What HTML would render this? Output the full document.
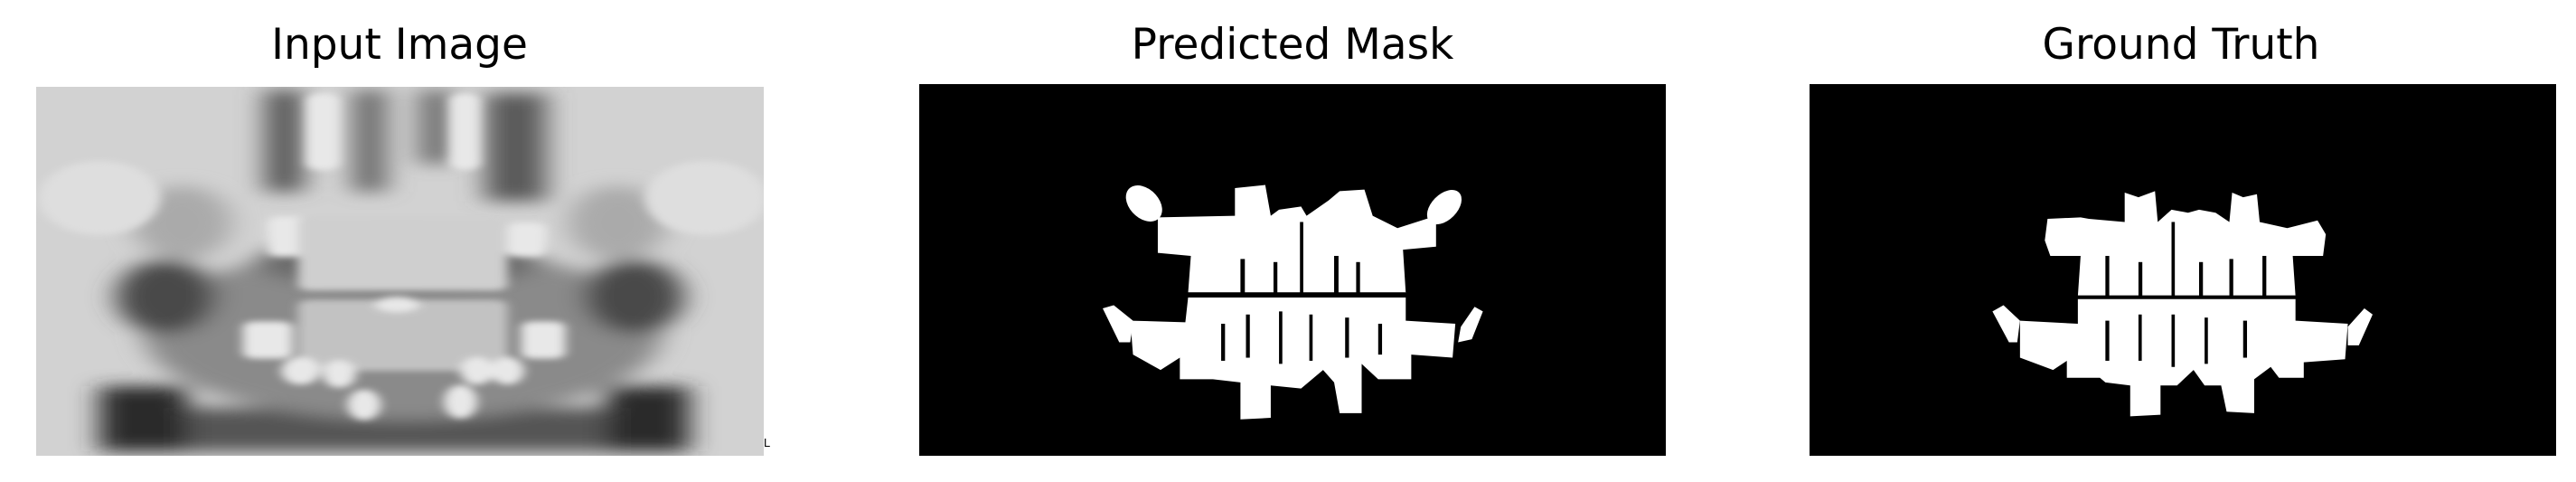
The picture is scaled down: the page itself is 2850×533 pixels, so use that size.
<!DOCTYPE html>
<html><head><meta charset="utf-8"><style>
html,body{margin:0;padding:0;background:#fff;}
body{width:2850px;height:533px;position:relative;overflow:hidden;font-family:"Liberation Sans","DejaVu Sans",sans-serif;}
.title{position:absolute;top:22px;font-size:47px;color:#000;transform:translateX(-50%);white-space:nowrap;font-family:"DejaVu Sans","Liberation Sans",sans-serif;}
svg{position:absolute;}
</style></head><body>
<div class="title" style="left:442px">Input Image</div>
<div class="title" style="left:1430px">Predicted Mask</div>
<div class="title" style="left:2413px">Ground Truth</div>

<svg style="left:40px;top:96px" width="805" height="408" viewBox="65 280 1320 1195" preserveAspectRatio="none">
<defs>
<filter id="b1" x="-50%" y="-50%" width="200%" height="200%"><feGaussianBlur stdDeviation="25"/></filter>
<filter id="b2" x="-50%" y="-50%" width="200%" height="200%"><feGaussianBlur stdDeviation="10"/></filter>
</defs>
<rect x="65" y="280" width="1320" height="1195" fill="#d2d2d2"/>
<g filter="url(#b1)">
<rect x="180" y="1250" width="160" height="210" fill="#2a2a2a"/>
<rect x="1100" y="1250" width="150" height="210" fill="#2a2a2a"/>
<rect x="340" y="1320" width="760" height="140" fill="#555"/>
<ellipse cx="730" cy="1080" rx="470" ry="280" fill="#8a8a8a"/>
<ellipse cx="300" cy="960" rx="90" ry="120" fill="#4a4a4a"/>
<ellipse cx="1150" cy="960" rx="90" ry="120" fill="#4a4a4a"/>
<ellipse cx="720" cy="850" rx="260" ry="80" fill="#6a6a6a"/>
<rect x="480" y="290" width="70" height="330" fill="#5a5a5a"/>
<rect x="640" y="290" width="60" height="330" fill="#6a6a6a"/>
<rect x="880" y="300" width="110" height="350" fill="#5a5a5a"/>
<rect x="760" y="290" width="60" height="240" fill="#707070"/>
<ellipse cx="330" cy="720" rx="90" ry="120" fill="#aaa"/>
<ellipse cx="1120" cy="720" rx="90" ry="120" fill="#aaa"/>
</g>
<g filter="url(#b2)" fill="#e8e8e8">
<rect x="555" y="300" width="60" height="250" rx="25"/>
<rect x="815" y="300" width="55" height="250" rx="25"/>
<rect x="485" y="700" width="70" height="130" rx="20"/>
<rect x="920" y="720" width="70" height="110" rx="20"/>
<rect x="540" y="700" width="380" height="240" rx="20" fill="#cfcfcf"/>
<rect x="440" y="1040" width="90" height="120" rx="20"/>
<rect x="945" y="1040" width="80" height="120" rx="20"/>
<rect x="540" y="970" width="380" height="230" rx="20" fill="#c2c2c2"/>
<ellipse cx="545" cy="1200" rx="35" ry="45"/>
<ellipse cx="615" cy="1210" rx="30" ry="45"/>
<ellipse cx="660" cy="1310" rx="30" ry="50"/>
<ellipse cx="865" cy="1200" rx="30" ry="45"/>
<ellipse cx="920" cy="1200" rx="30" ry="45"/>
<ellipse cx="835" cy="1300" rx="30" ry="55"/>
<ellipse cx="720" cy="985" rx="40" ry="25"/>
<ellipse cx="180" cy="640" rx="110" ry="120" fill="#dedede"/>
<ellipse cx="1280" cy="640" rx="110" ry="120" fill="#dedede"/>
</g>
</svg>
<div style="position:absolute;left:845px;top:482px;font-size:13px;color:#000">L</div>

<svg style="left:1017px;top:93px" width="826" height="411" viewBox="107 273 1355 1205" preserveAspectRatio="none">
<rect x="107" y="273" width="1355" height="1205" fill="#000"/>
<g fill="#fff">
<ellipse cx="515" cy="660" rx="30" ry="60" transform="rotate(-15 515 660)"/>
<ellipse cx="1060" cy="672" rx="27" ry="58" transform="rotate(18 1060 672)"/>
<polygon points="540,705 680,700 680,610 735,600 745,700 760,680 800,670 810,700 850,650 870,620 915,615 930,700 975,740 1045,700 1045,800 985,810 990,950 595,950 600,830 540,820"/>
<polygon points="440,1000 460,990 495,1040 490,1110 470,1110"/>
<polygon points="1090,1060 1115,995 1130,1010 1110,1100 1085,1110"/>
<polygon points="490,1040 590,1045 595,965 990,965 990,1040 1080,1050 1075,1160 1000,1150 1000,1230 940,1230 910,1180 910,1340 870,1340 860,1240 840,1200 800,1260 745,1250 745,1355 690,1360 690,1240 640,1230 630,1230 580,1230 580,1160 545,1200 495,1150"/>
</g>
<g fill="#000">
<rect x="590" y="948" width="400" height="10"/>
<rect x="690" y="840" width="8" height="110"/>
<rect x="750" y="850" width="7" height="100"/>
<rect x="798" y="720" width="6" height="230"/>
<rect x="860" y="830" width="8" height="120"/>
<rect x="900" y="850" width="7" height="100"/>
<rect x="655" y="1050" width="7" height="120"/>
<rect x="700" y="1020" width="7" height="140"/>
<rect x="760" y="1010" width="6" height="170"/>
<rect x="815" y="1020" width="6" height="150"/>
<rect x="880" y="1030" width="7" height="130"/>
<rect x="940" y="1050" width="7" height="100"/>
</g>
</svg>

<svg style="left:2002px;top:93px" width="826" height="411" viewBox="163 273 1355 1205" preserveAspectRatio="none">
<rect x="163" y="273" width="1355" height="1205" fill="#000"/>
<g fill="#fff">
<polygon points="595,710 655,705 670,710 735,720 735,625 760,640 790,620 795,720 820,680 850,690 870,680 900,690 925,720 930,625 950,640 975,630 980,720 1030,740 1085,715 1100,760 1095,830 1040,830 1045,960 650,960 655,830 600,830 590,780"/>
<polygon points="495,1010 515,990 545,1040 540,1110 525,1110"/>
<polygon points="1140,1060 1170,1000 1185,1020 1160,1120 1140,1120"/>
<polygon points="545,1040 650,1050 650,970 1045,970 1045,1040 1140,1050 1135,1165 1060,1175 1060,1225 1015,1225 1000,1190 970,1230 970,1340 920,1335 910,1250 880,1250 860,1200 830,1250 800,1250 800,1345 745,1350 745,1250 700,1240 690,1225 630,1225 630,1170 605,1200 545,1160"/>
</g>
<g fill="#000">
<rect x="645" y="958" width="405" height="9"/>
<rect x="700" y="830" width="7" height="130"/>
<rect x="760" y="850" width="7" height="110"/>
<rect x="820" y="720" width="6" height="240"/>
<rect x="870" y="850" width="7" height="110"/>
<rect x="925" y="840" width="7" height="120"/>
<rect x="985" y="830" width="7" height="130"/>
<rect x="700" y="1040" width="7" height="130"/>
<rect x="760" y="1020" width="6" height="150"/>
<rect x="820" y="1020" width="6" height="170"/>
<rect x="880" y="1030" width="6" height="150"/>
<rect x="950" y="1040" width="7" height="120"/>
</g>
</svg>
</body></html>
